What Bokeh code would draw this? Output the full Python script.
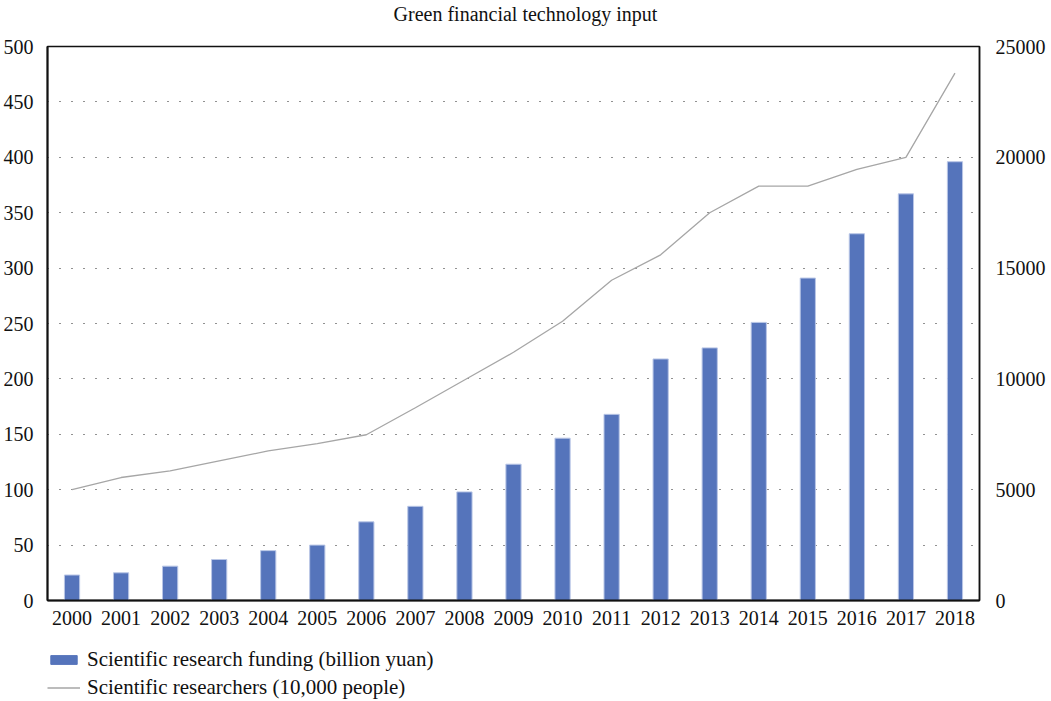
from bokeh.plotting import figure
from bokeh.layouts import column
from bokeh.models import (ColumnDataSource, FactorRange, Range1d, LinearAxis,
                          FixedTicker, Legend, LegendItem, Div)
from bokeh.embed import file_html
from bokeh.resources import INLINE

years = [str(y) for y in range(2000, 2019)]
funding = [23, 25, 31, 37, 45, 50, 71, 85, 98, 123, 146.5, 168, 218, 228,
           251, 291, 331, 367, 396]
researchers = [5000, 5550, 5850, 6300, 6750, 7080, 7480, 8700, 9950, 11200,
               12600, 14450, 15600, 17500, 18700, 18700, 19450, 20000, 23800]
left_ticks = [0, 50, 100, 150, 200, 250, 300, 350, 400, 450, 500]
right_ticks = [0, 5000, 10000, 15000, 20000, 25000]
series_names = ["Scientific research funding (billion yuan)",
                "Scientific researchers (10,000 people)"]
title_text = "Green financial technology input"

FONT = "Liberation Serif"
BAR_FILL = "#5574BB"
BAR_EDGE = "#B9C6E6"
LINE_COL = "#A6A6A6"

src = ColumnDataSource(dict(year=years, funding=funding, researchers=researchers))

title = Div(text=title_text, width=1051, height=30, margin=(0, 0, 0, 0),
            styles={"text-align": "center", "font-family": FONT,
                    "font-size": "20px", "color": "#111111",
                    "line-height": "28px", "width": "1051px"})

p = figure(frame_width=932, frame_height=554, x_range=FactorRange(*years, range_padding=0),
           y_range=Range1d(0, 500), output_backend="svg", toolbar_location=None)
p.min_border_left = 47
p.min_border_right = 72
p.min_border_top = 16
p.min_border_bottom = 30

p.extra_y_ranges = {"right": Range1d(0, 25000)}

p.vbar(x="year", top="funding", width=0.31, source=src,
       fill_color=BAR_FILL, line_color=BAR_EDGE, line_width=1)
p.line(x="year", y="researchers", source=src, y_range_name="right",
       line_color=LINE_COL, line_width=1.3)

p.outline_line_color = "#111111"
p.outline_line_width = 1.5

p.xgrid.visible = False
p.ygrid.ticker = FixedTicker(ticks=left_ticks)
p.ygrid.grid_line_color = "#222222"
p.ygrid.grid_line_dash = "1 11"
p.ygrid.grid_line_width = 1

for ax in (p.xaxis[0], p.yaxis[0]):
    ax.axis_line_color = "#111111"
    ax.axis_line_width = 2
    ax.major_tick_line_color = None
    ax.minor_tick_line_color = None
    ax.major_label_text_font = FONT
    ax.major_label_text_font_size = "20px"
    ax.major_label_text_color = "#111111"

p.yaxis[0].ticker = FixedTicker(ticks=left_ticks)
p.yaxis[0].major_label_standoff = 8
p.xaxis[0].major_label_standoff = 4
p.xaxis[0].group_text_font_size = "0px"

ra = LinearAxis(y_range_name="right", ticker=FixedTicker(ticks=right_ticks))
ra.axis_line_color = "#111111"
ra.axis_line_width = 1.5
ra.major_tick_line_color = None
ra.minor_tick_line_color = None
ra.major_label_text_font = FONT
ra.major_label_text_font_size = "20px"
ra.major_label_text_color = "#111111"
ra.major_label_standoff = 10
p.add_layout(ra, "right")

# legend strip below the chart (same series drawn far out of view, legend only)
lg = figure(width=1051, height=71, x_range=FactorRange(*years),
            y_range=Range1d(1e7, 1e7 + 1), output_backend="svg", toolbar_location=None)
lg.min_border_left = 0
lg.min_border_right = 0
lg.min_border_top = 0
lg.min_border_bottom = 0
lg.axis.visible = False
lg.grid.visible = False
lg.outline_line_color = None
r_bar = lg.vbar(x="year", top="funding", width=0.31, source=src,
                fill_color=BAR_FILL, line_color=BAR_FILL)
r_line = lg.line(x="year", y="researchers", source=src,
                 line_color=LINE_COL, line_width=1.3)

legend = Legend(items=[
    LegendItem(label=series_names[0], renderers=[r_bar], index=0),
    LegendItem(label=series_names[1], renderers=[r_line], index=0),
], location=(0, 1), orientation="vertical")
legend.label_text_font = FONT
legend.label_text_font_size = "21px"
legend.label_text_color = "#111111"
legend.glyph_width = 33
legend.glyph_height = 11
legend.label_height = 20
legend.spacing = 3
legend.padding = 0
legend.margin = 0
legend.border_line_color = None
legend.background_fill_alpha = 0
legend.label_standoff = 7
lg.add_layout(legend, "center")

layout = column(title, p, lg, spacing=0)
open("out.html", "w").write(file_html(layout, INLINE))
